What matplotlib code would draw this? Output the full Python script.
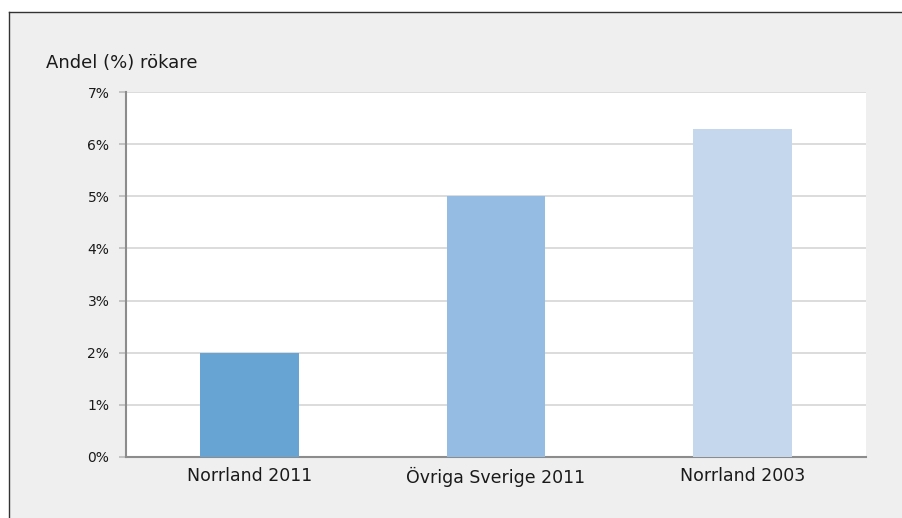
import matplotlib
matplotlib.use("Agg")
import matplotlib.pyplot as plt
from matplotlib.patches import Rectangle
from matplotlib.lines import Line2D
from matplotlib.ticker import FuncFormatter, MultipleLocator

categories = ["Norrland 2011", "Övriga Sverige 2011", "Norrland 2003"]
values = [2.0, 5.0, 6.3]
bar_colors = ["#68a4d3", "#95bce2", "#c4d7ec"]
y_label = "Andel (%) rökare"

W, H = 903, 518
fig = plt.figure(figsize=(W / 100, H / 100), dpi=100, facecolor="white")
plt.rcParams["font.family"] = ["DejaVu Sans"]

# outer panel (face only) plus top/left border lines
top = 1 - 11.5 / H
left = 9.5 / W
panel = Rectangle((left, -0.05), 1.1, top + 0.05, transform=fig.transFigure,
                  facecolor="#efefef", edgecolor="none", linewidth=0, zorder=-10)
fig.patches.append(panel)
fig.lines.append(Line2D([left, 1.05], [top, top], transform=fig.transFigure,
                        color="#333333", linewidth=1.0))
fig.lines.append(Line2D([left, left], [-0.05, top], transform=fig.transFigure,
                        color="#333333", linewidth=1.0))

ax = fig.add_axes([126 / W, (H - 457) / H, (866 - 126) / W, (457 - 92) / H])
ax.set_facecolor("white")
x = range(len(categories))
ax.bar(x, values, width=0.4, color=bar_colors, zorder=3)
ax.set_xlim(-0.5, len(categories) - 0.5)
ax.set_ylim(0, 7)
ax.yaxis.set_major_locator(MultipleLocator(1))
ax.yaxis.set_major_formatter(FuncFormatter(lambda v, p: f"{int(round(v))}%"))
ax.set_xticks(list(x))
ax.set_xticklabels(categories, fontsize=12.5, color="#1a1a1a")
ax.grid(axis="y", color="#d9d9d9", linewidth=1.3, zorder=0)
ax.set_axisbelow(True)
for s in ["top", "right"]:
    ax.spines[s].set_visible(False)
for s in ["left", "bottom"]:
    ax.spines[s].set_color("#8c8c8c")
    ax.spines[s].set_linewidth(1.5)
ax.tick_params(axis="y", length=5, width=1.2, color="#bbbbbb", labelsize=10,
               labelcolor="#1a1a1a", pad=7)
ax.tick_params(axis="x", length=0, pad=7)

fig.text(46 / W, 1 - 68 / H, y_label, fontsize=13, color="#1a1a1a",
         ha="left", va="baseline")

fig.savefig("out.png", dpi=100, facecolor=fig.get_facecolor())
